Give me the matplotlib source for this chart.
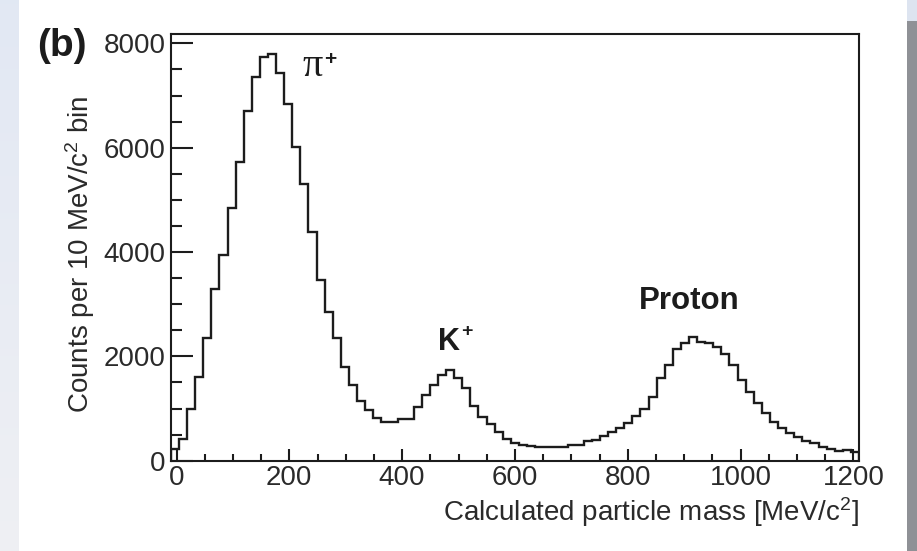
import numpy as np
import matplotlib
matplotlib.use("Agg")
import matplotlib.pyplot as plt
from matplotlib.patches import Rectangle

# ---------------- data ----------------
x_range = (-10, 1210)          # histogram range [MeV/c^2]
counts = [220, 420, 1000, 1610, 2360, 3290, 3940, 4840, 5720, 6710,
          7360, 7730, 7790, 7440, 6840, 6010, 5300, 4375, 3470, 2845,
          2355, 1805, 1445, 1135, 970, 812, 735, 735, 795, 805,
          1030, 1265, 1450, 1650, 1745, 1580, 1395, 1055, 835, 695,
          545, 410, 345, 300, 280, 270, 265, 265, 270, 295,
          305, 380, 400, 470, 550, 620, 715, 860, 1000, 1230,
          1580, 1830, 2150, 2250, 2380, 2270, 2260, 2180, 2050, 1830,
          1550, 1320, 1100, 910, 750, 620, 540, 460, 385, 330,
          270, 225, 185, 200, 175]
x_ticks = [0, 200, 400, 600, 800, 1000, 1200]
y_ticks = [0, 2000, 4000, 6000, 8000]
y_max = 8180
peak_labels = ["π", "K", "Proton"]
xlabel = r"Calculated particle mass [MeV/c$^{2}$]"
ylabel = r"Counts per 10 MeV/c$^{2}$ bin"
panel = "(b)"

edges = np.linspace(x_range[0], x_range[1], len(counts) + 1)

# ---------------- figure ----------------
W, H = 917, 551
plt.rcParams["font.family"] = ["Liberation Sans", "DejaVu Sans"]
plt.rcParams["mathtext.default"] = "regular"
fig = plt.figure(figsize=(W / 100, H / 100), dpi=100)
fig.patch.set_facecolor("white")

# background strips (screenshot edges)
grad = np.linspace(0, 1, 256).reshape(-1, 1)
bg_l = fig.add_axes([0, 0, 19 / W, 1])
bg_l.imshow(np.dstack([0.886 + 0.05 * grad, 0.910 + 0.03 * grad, 0.955 + 0.0 * grad]),
            aspect="auto", extent=[0, 1, 0, 1], origin="upper")
bg_l.axis("off")
fig.add_artist(Rectangle((907 / W, 0), 10 / W, 1 - 21 / H, transform=fig.transFigure,
                         facecolor="#8f9196", edgecolor="none"))
fig.add_artist(Rectangle((907 / W, 1 - 21 / H), 10 / W, 21 / H, transform=fig.transFigure,
                         facecolor="#dde4f0", edgecolor="none"))

left_px, right_px, top_px, bot_px = 170.86, 859.0, 34.0, 460.7
ax = fig.add_axes([left_px / W, 1 - bot_px / H, (right_px - left_px) / W, (bot_px - top_px) / H])
ax.set_facecolor("white")

ax.stairs(counts, edges, color="#1c1c1c", linewidth=1.7, baseline=0)

ax.set_xlim(*x_range)
ax.set_ylim(0, y_max)
ax.set_xticks(x_ticks)
ax.set_yticks(y_ticks)
ax.set_xticks(np.arange(0, 1201, 50), minor=True)
ax.set_yticks(np.arange(0, 8001, 500), minor=True)
tick_col = "#2a2a2a"
ax.tick_params(axis="both", which="both", direction="in", top=False, right=False,
               colors="#1c1c1c", labelcolor=tick_col, labelsize=20, width=1.5)
ax.tick_params(axis="y", which="major", length=16, pad=4)
ax.tick_params(axis="y", which="minor", length=8)
ax.tick_params(axis="x", which="major", length=8.6, pad=3)
ax.tick_params(axis="x", which="minor", length=5)
for s in ax.spines.values():
    s.set_linewidth(1.5)
    s.set_color("#1c1c1c")

# axis titles
ax.text(1.0, -0.082, xlabel, transform=ax.transAxes, ha="right", va="top",
        fontsize=20, color=tick_col)
fig.text(80 / W, 1 - 96 / H, ylabel, rotation=90, ha="center", va="top",
         fontsize=20, color=tick_col)
fig.text(37 / W, 1 - 46 / H, panel, ha="left", va="center", fontsize=28,
         fontweight="bold", color="#1c1c1c")

# peak labels
ax.text(224, 7556, peak_labels[0], ha="left", va="center", fontsize=29,
        family="Liberation Serif", color="#1c1c1c")
ax.text(262, 7700, "+", ha="left", va="center", fontsize=15, fontweight="bold",
        color="#1c1c1c")
ax.text(464, 2279, peak_labels[1], ha="left", va="center", fontsize=22,
        fontweight="bold", color="#1c1c1c")
ax.text(504, 2480, "+", ha="left", va="center", fontsize=14, fontweight="bold",
        color="#1c1c1c")
ax.text(820, 3068, peak_labels[2], ha="left", va="center", fontsize=22.5,
        fontweight="bold", color="#1c1c1c")

fig.savefig("out.png", dpi=100, facecolor=fig.get_facecolor())
